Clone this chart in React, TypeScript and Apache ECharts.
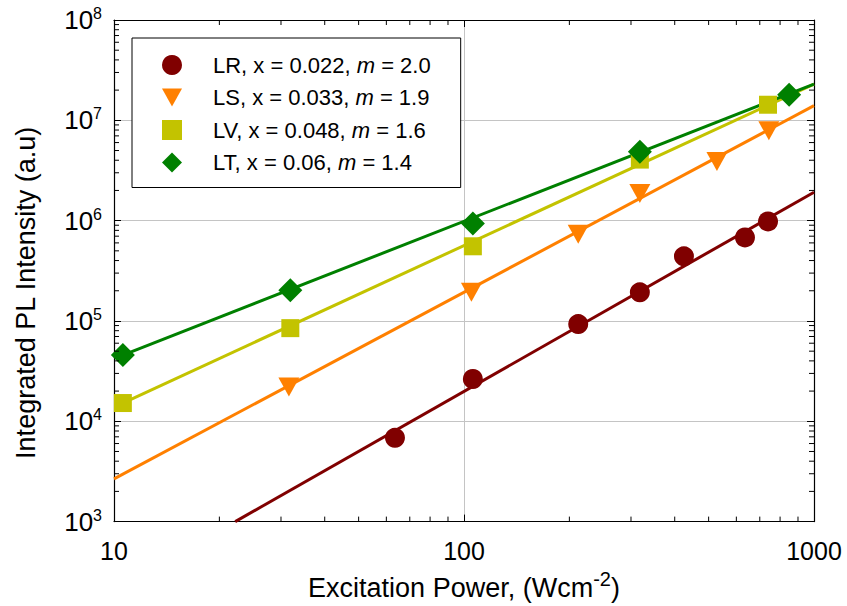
import React, { useEffect, useRef } from "react";
import * as echarts from "echarts";

const FONT = "Liberation Sans, Arial, Helvetica, sans-serif";

// Axis ranges and tick labels
const X_MIN = 10;
const X_MAX = 1000;
const Y_MIN = 1e3;
const Y_MAX = 1e8;
const MINOR_MULTS = [2, 3, 4, 5, 6, 7, 8, 9];
const X_DECADES = [10, 100];
const Y_DECADES = [1e3, 1e4, 1e5, 1e6, 1e7];

// Series names and legend labels
const SERIES_NAMES = ["LR", "LS", "LV", "LT"];
const X_FRACTION = ["0.022", "0.033", "0.048", "0.06"];
const M_VALUES = ["2.0", "1.9", "1.6", "1.4"];
const COLORS = ["#800000", "#ff8000", "#c3c300", "#008000"];

// Measured points
const LR_X = [63.5, 106, 212, 318, 425, 635, 739];
const LR_Y = [6840, 26400, 93000, 193000, 441000, 681000, 982000];
const LS_X = [31.6, 105, 212, 318, 528, 743];
const LS_Y = [22000, 193000, 730000, 1.86e6, 3.88e6, 7.88e6];
const LV_X = [10.6, 31.9, 106, 318, 739];
const LV_Y = [15200, 84800, 555000, 4.06e6, 1.43e7];
const LT_X = [10.6, 31.9, 106, 318, 849];
const LT_Y = [45700, 202000, 938000, 4.87e6, 1.8e7];

// Power-law fit line end points
const LR_FIT_X = [22.2, 1000];
const LR_FIT_Y = [1000, 1.92e6];
const LS_FIT_X = [10, 1000];
const LS_FIT_Y = [2670, 1.4e7];
const LV_FIT_X = [10.6, 1000];
const LV_FIT_Y = [15200, 2.3e7];
const LT_FIT_X = [10.6, 1000];
const LT_FIT_Y = [45700, 2.3e7];

const zip = (xs: number[], ys: number[]) => xs.map((x, i) => [x, ys[i]]);

const POINTS = [zip(LR_X, LR_Y), zip(LS_X, LS_Y), zip(LV_X, LV_Y), zip(LT_X, LT_Y)];
const FITS = [
  zip(LR_FIT_X, LR_FIT_Y),
  zip(LS_FIT_X, LS_FIT_Y),
  zip(LV_FIT_X, LV_FIT_Y),
  zip(LT_FIT_X, LT_FIT_Y),
];
const SYMBOLS = ["circle", "triangle", "rect", "diamond"];
const LEGEND_ICONS = ["circle", "path://M0,0L20,0L10,18Z", "rect", "diamond"];
const SYMBOL_SIZES: any[] = [20, [21, 19], 18, 24];
const SYMBOL_ROTATE = [0, 180, 0, 0];

const X_MINOR = X_DECADES.flatMap((d) => MINOR_MULTS.map((m) => m * d));
const Y_MINOR = Y_DECADES.flatMap((d) => MINOR_MULTS.map((m) => m * d));

export default function App() {
  const ref = useRef<HTMLDivElement>(null);
  useEffect(() => {
    if (!ref.current) return;
    const chart = echarts.init(ref.current, null, { renderer: "svg" });

    const supRich = (size: number, lh: number, sup: number) => ({
      b: { fontSize: size, lineHeight: lh, fontFamily: FONT, color: "#000" },
      s: { fontSize: sup, lineHeight: sup, verticalAlign: "top", fontFamily: FONT, color: "#000" },
    });

    const legendMap: Record<string, string> = {};
    SERIES_NAMES.forEach((n, i) => {
      legendMap[n] = `{a|${n}, x = ${X_FRACTION[i]}, }{i|m}{t| = ${M_VALUES[i]}}`;
    });

    const scatterSeries = SERIES_NAMES.map((name, i) => ({
      name,
      type: "scatter",
      data: POINTS[i],
      symbol: SYMBOLS[i],
      symbolSize: SYMBOL_SIZES[i],
      symbolRotate: SYMBOL_ROTATE[i],
      itemStyle: { color: COLORS[i], opacity: 1 },
      clip: false,
      z: 5,
      xAxisIndex: 0,
      yAxisIndex: 0,
    }));

    const fitSeries = SERIES_NAMES.map((name, i) => ({
      name: name + " fit",
      type: "line",
      data: FITS[i],
      showSymbol: false,
      symbol: "none",
      lineStyle: { color: COLORS[i], width: 3 },
      z: 3,
      xAxisIndex: 0,
      yAxisIndex: 0,
    }));

    const minorX = {
      type: "custom",
      xAxisIndex: 0,
      yAxisIndex: 0,
      data: X_MINOR.map((v) => [v, Y_MIN]),
      silent: true,
      z: 6,
      renderItem: (params: any, api: any) => {
        const p = api.coord([api.value(0), api.value(1)]);
        const cs = params.coordSys;
        const b = cs.y + cs.height;
        return {
          type: "group",
          children: [
            { type: "line", shape: { x1: p[0], y1: b, x2: p[0], y2: b - 5 }, style: { stroke: "#000", lineWidth: 1 } },
            { type: "line", shape: { x1: p[0], y1: cs.y, x2: p[0], y2: cs.y + 5 }, style: { stroke: "#000", lineWidth: 1 } },
          ],
        };
      },
    };
    const minorY = {
      type: "custom",
      xAxisIndex: 0,
      yAxisIndex: 0,
      data: Y_MINOR.map((v) => [X_MIN, v]),
      silent: true,
      z: 6,
      renderItem: (params: any, api: any) => {
        const p = api.coord([api.value(0), api.value(1)]);
        const cs = params.coordSys;
        const r = cs.x + cs.width;
        return {
          type: "group",
          children: [
            { type: "line", shape: { x1: cs.x, y1: p[1], x2: cs.x + 5, y2: p[1] }, style: { stroke: "#000", lineWidth: 1 } },
            { type: "line", shape: { x1: r, y1: p[1], x2: r - 5, y2: p[1] }, style: { stroke: "#000", lineWidth: 1 } },
          ],
        };
      },
    };

    const axisLine = { show: true, onZero: false, lineStyle: { color: "#000", width: 1.2 } };
    const majorTick = { show: true, inside: true, length: 7, lineStyle: { color: "#000", width: 1 } };

    chart.setOption({
      animation: false,
      backgroundColor: "#fff",
      grid: { left: 114, right: 33, top: 20, bottom: 83, containLabel: false },
      legend: {
        data: SERIES_NAMES.map((n, i) => ({ name: n, icon: LEGEND_ICONS[i], itemStyle: { color: COLORS[i] } })),
        orient: "vertical",
        left: 132,
        top: 38,
        padding: [16, 30, 14, 30],
        itemWidth: 20,
        itemHeight: 20,
        itemGap: 10.5,
        borderColor: "#000",
        borderWidth: 1,
        backgroundColor: "#fff",
        formatter: (n: string) => legendMap[n],
        textStyle: {
          color: "#000",
          fontFamily: FONT,
          fontSize: 22,
          lineHeight: 20,
          rich: {
            a: { fontSize: 22, lineHeight: 20, fontFamily: FONT, color: "#000", padding: [0, 0, 0, 26] },
            t: { fontSize: 22, lineHeight: 20, fontFamily: FONT, color: "#000" },
            i: { fontSize: 22, lineHeight: 20, fontFamily: FONT, color: "#000", fontStyle: "italic" },
          },
        },
      },
      xAxis: [
        {
          type: "log",
          logBase: 10,
          min: X_MIN,
          max: X_MAX,
          position: "bottom",
          axisLine,
          axisTick: majorTick,
          minorTick: { show: false },
          splitLine: { show: true, lineStyle: { color: "#c4c4c4", width: 1 } },
          axisLabel: {
            fontSize: 25,
            lineHeight: 26,
            fontFamily: FONT,
            color: "#000",
            margin: 16,
            formatter: (v: number) => String(Math.round(v)),
          },
          name: "{b|Excitation Power, (Wcm}{s|-2}{b|)}",
          nameLocation: "middle",
          nameGap: 40,
          nameTextStyle: { rich: supRich(27, 38, 20) },
        },
        {
          type: "log",
          logBase: 10,
          min: X_MIN,
          max: X_MAX,
          position: "top",
          axisLine,
          axisTick: majorTick,
          axisLabel: { show: false },
          splitLine: { show: false },
        },
      ],
      yAxis: [
        {
          type: "log",
          logBase: 10,
          min: Y_MIN,
          max: Y_MAX,
          position: "left",
          axisLine,
          axisTick: majorTick,
          splitLine: { show: true, lineStyle: { color: "#c4c4c4", width: 1 } },
          axisLabel: {
            margin: 12,
            formatter: (v: number) => `{b|10}{s|${Math.round(Math.log10(v))}}`,
            rich: supRich(26, 29, 16),
          },
          name: "Integrated PL Intensity (a.u)",
          nameLocation: "middle",
          nameGap: 75,
          nameTextStyle: { fontSize: 27, fontFamily: FONT, color: "#000", padding: [0, 44, 0, 0] },
        },
        {
          type: "log",
          logBase: 10,
          min: Y_MIN,
          max: Y_MAX,
          position: "right",
          axisLine,
          axisTick: majorTick,
          axisLabel: { show: false },
          splitLine: { show: false },
        },
      ],
      series: [...fitSeries, ...scatterSeries, minorX, minorY],
    });
    return () => chart.dispose();
  }, []);
  return (
    <div
      ref={ref}
      style={{ position: "fixed", left: 0, top: 0, width: 847, height: 606 }}
    />
  );
}
